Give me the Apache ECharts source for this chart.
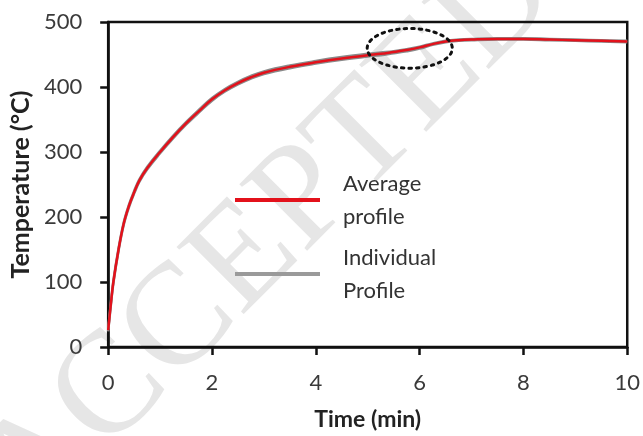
<!DOCTYPE html>
<html>
<head>
<meta charset="utf-8">
<script src="https://cdn.jsdelivr.net/npm/echarts@6/dist/echarts.min.js"></script>
<style>
  html, body { margin: 0; padding: 0; background: #fff; }
  #chart { width: 643px; height: 436px; }
</style>
</head>
<body>
<div id="chart"></div>
<script>
// Time axis (min)
const times = [0, 0.05, 0.1, 0.2, 0.3, 0.4, 0.5, 0.6, 0.75, 1.0, 1.25, 1.5, 1.75, 2.0, 2.25, 2.5, 2.75, 3.0, 3.5, 4.0, 4.5, 5.0, 5.25, 5.5, 5.75, 6.0, 6.25, 6.5, 6.75, 7.0, 7.5, 8.0, 8.5, 9.0, 9.5, 10];
// Average temperature profile (°C)
const averageProfile = [26, 65, 100, 150, 190, 217, 238, 256, 275, 300, 323, 344, 363, 381, 395, 406, 415, 422, 431, 438, 444, 449, 451, 454, 457, 461, 466, 470, 472, 473, 474, 474, 473, 472, 471, 470];
// Individual run profiles (°C)
const individualA = [28, 67, 102, 152, 192, 219, 240, 258, 277, 302, 325, 346, 365, 383, 397, 408, 417, 424, 433, 440, 446, 451, 453, 455, 458, 462, 467, 471, 473, 474, 475, 475, 474, 473, 472, 471];
const individualB = [24, 63, 98, 148, 188, 215, 236, 254, 273, 298, 321, 342, 361, 379, 393, 404, 413, 420, 429, 436, 442, 447, 449, 452, 455, 459, 465, 469, 471, 472, 473, 473, 472, 471, 470, 469];
const xTicks = [0, 2, 4, 6, 8, 10];
const yTicks = [0, 100, 200, 300, 400, 500];
// Highlighted window: time span and temperature span
const windowTime = [4.99, 6.63];
const windowTemp = [429, 490];

const AVG_NAME = 'Average\nprofile';
const IND_NAME = 'Individual\nProfile';

const pair = arr => times.map((t, i) => [t, arr[i]]);

const chart = echarts.init(document.getElementById('chart'));

const individualSeries = [individualA, individualB].map(arr => ({
  name: IND_NAME,
  type: 'line',
  data: pair(arr),
  smooth: 0.4,
  showSymbol: false,
  lineStyle: { color: '#8a8a8a', width: 2.5 },
  itemStyle: { color: '#9a9a9a' },
  z: 3
}));

chart.setOption({
  animation: false,
  backgroundColor: '#fff',
  grid: {
    left: 107, right: 15, top: 22, bottom: 88,
    show: true, borderColor: '#111', borderWidth: 2.5
  },
  legend: {
    orient: 'vertical',
    left: 230, top: 162,
    icon: 'rect',
    itemWidth: 85, itemHeight: 4,
    itemGap: 8,
    data: [AVG_NAME, IND_NAME],
    textStyle: {
      fontFamily: 'Lato', fontSize: 22, color: '#333',
      lineHeight: 33, padding: [0, 0, 0, 18]
    }
  },
  xAxis: {
    type: 'value', min: 0, max: 10, interval: 2,
    name: 'Time (min)', nameLocation: 'middle', nameGap: 61,
    nameTextStyle: { fontFamily: 'Lato', fontWeight: 'bold', fontSize: 23, color: '#222' },
    axisLine: { lineStyle: { color: '#111', width: 2.5 } },
    axisTick: { inside: false, length: 8, lineStyle: { color: '#111', width: 2.5 } },
    axisLabel: {
      margin: 25, fontFamily: 'Lato', fontSize: 22, color: '#3a3a3a',
      formatter: v => xTicks.includes(v) ? String(v) : ''
    },
    splitLine: { show: false }
  },
  yAxis: {
    type: 'value', min: 0, max: 500, interval: 100,
    name: 'Temperature (°C)', nameLocation: 'middle', nameGap: 72,
    nameTextStyle: { fontFamily: 'Lato', fontWeight: 'bold', fontSize: 25, color: '#222' },
    axisLine: { lineStyle: { color: '#111', width: 2.5 } },
    axisTick: { inside: false, length: 8, lineStyle: { color: '#111', width: 2.5 } },
    axisLabel: {
      margin: 26, fontFamily: 'Lato', fontSize: 22, color: '#3a3a3a',
      formatter: v => yTicks.includes(v) ? String(v) : ''
    },
    splitLine: { show: false }
  },
  series: [
    ...individualSeries,
    {
      name: AVG_NAME,
      type: 'line',
      data: pair(averageProfile),
      smooth: 0.4,
      showSymbol: false,
      lineStyle: { color: '#e3111b', width: 2.5 },
      itemStyle: { color: '#e3111b' },
      z: 4
    }
  ]
});

// Watermark and dotted highlight ellipse, placed through the axis scales
function drawOverlays() {
  const c = chart.convertToPixel({ gridIndex: 0 }, [
    (windowTime[0] + windowTime[1]) / 2, (windowTemp[0] + windowTemp[1]) / 2
  ]);
  const p0 = chart.convertToPixel({ gridIndex: 0 }, [windowTime[0], windowTemp[0]]);
  const p1 = chart.convertToPixel({ gridIndex: 0 }, [windowTime[1], windowTemp[1]]);
  chart.setOption({
    graphic: [
      {
        type: 'text',
        id: 'watermark',
        x: 268, y: 236,
        rotation: Math.PI / 4,
        silent: true,
        z: -10,
        style: {
          text: 'ACCEPTED',
          fontFamily: 'Liberation Serif',
          fontSize: 145,
          fill: '#e6e6e6',
          align: 'center',
          verticalAlign: 'middle'
        }
      },
      {
        type: 'ellipse',
        id: 'highlight',
        shape: {
          cx: c[0], cy: c[1],
          rx: Math.abs(p1[0] - p0[0]) / 2,
          ry: Math.abs(p1[1] - p0[1]) / 2
        },
        silent: true,
        z: 10,
        style: {
          fill: 'none',
          stroke: '#111',
          lineWidth: 3,
          lineDash: [2.5, 5],
          lineCap: 'round'
        }
      }
    ]
  });
}
drawOverlays();
</script>
</body>
</html>
